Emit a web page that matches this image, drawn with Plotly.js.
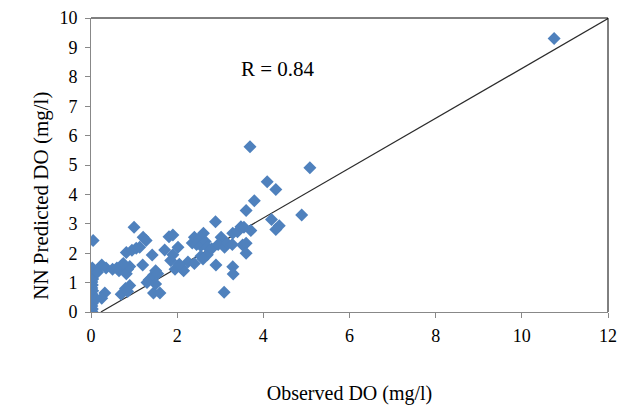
<!DOCTYPE html>
<html>
<head>
<meta charset="utf-8">
<script src="https://cdn.plot.ly/plotly-3.0.1.min.js"></script>
<style>html,body{margin:0;padding:0;background:#fff;}#chart{width:618px;height:410px;}</style>
</head>
<body>
<div id="chart"></div>
<script>
// Observed DO (mg/l)
const observedDO = [
  0.02,0.03,0.02,0.03,0.02,0.03,0.02,0.04,0.02,0.03,0.02,0.04,0.03,0.02,0.04,0.03,0.05,
  0.15,0.12,0.25,0.35,0.5,0.6,0.65,0.72,0.78,0.85,0.82,0.9,0.75,
  0.32,0.25,0.7,0.8,0.9,0.85,
  0.82,0.95,1.05,1.13,1.0,1.21,1.28,
  1.2,1.42,1.35,1.45,1.5,1.55,1.45,1.5,1.6,1.3,
  1.71,1.81,1.9,2.02,1.85,1.95,2.1,2.15,2.25,2.05,1.9,
  2.35,2.4,2.52,2.61,2.45,2.55,2.65,2.7,2.55,2.7,2.8,2.4,2.6,
  2.89,2.9,3.02,2.95,3.1,3.15,3.28,3.09,3.29,3.3,3.29,3.4,3.48,3.55,3.71,3.52,3.6,3.6,3.6,3.79,3.69,
  4.09,4.29,4.19,4.37,4.29,4.89,5.08,10.75
];
// NN Predicted DO (mg/l)
const predictedDO = [
  0.02,0.1,0.2,0.3,0.4,0.5,0.6,0.72,0.82,0.92,1.02,1.12,1.22,1.32,1.42,1.5,2.43,
  1.35,0.45,1.6,1.5,1.45,1.5,1.4,1.6,1.5,1.45,1.3,1.55,1.65,
  0.65,0.47,0.6,0.8,0.9,0.7,
  2.02,2.1,2.17,2.2,2.88,2.54,2.43,
  1.6,1.94,1.1,1.25,1.4,1.3,0.65,0.95,0.65,1.0,
  2.11,2.56,2.62,2.2,1.75,1.45,1.5,1.4,1.7,1.62,1.95,
  2.35,2.54,2.51,2.68,2.3,2.25,2.4,2.2,1.9,1.95,2.15,1.65,1.8,
  3.07,1.6,2.54,2.3,2.2,2.35,2.3,0.67,1.54,1.29,2.68,2.73,2.9,2.88,2.77,2.28,2.34,2.0,3.45,3.78,5.62,
  4.43,4.17,3.15,2.93,2.81,3.3,4.91,9.3
];
// Regression line end points
const fitX = [0.23, 12];
const fitY = [0, 9.98];
const xTicks = [0, 2, 4, 6, 8, 10, 12];
const yTicks = [0, 1, 2, 3, 4, 5, 6, 7, 8, 9, 10];
const rLabel = "R = 0.84";
const xTitle = "Observed DO (mg/l)";
const yTitle = "NN Predicted DO (mg/l)";

const serif = "Liberation Serif, Times New Roman, serif";
const traces = [
  {x: fitX, y: fitY, type: "scatter", mode: "lines",
   line: {color: "#2b2b2b", width: 1.2}, hoverinfo: "skip", showlegend: false},
  {x: observedDO, y: predictedDO, type: "scatter", mode: "markers",
   marker: {symbol: "diamond", size: 10, color: "#4F81BD"}, showlegend: false}
];
const layout = {
  width: 618, height: 410,
  margin: {l: 91, r: 10, t: 18, b: 98},
  paper_bgcolor: "#fff", plot_bgcolor: "#fff",
  font: {family: serif, size: 18, color: "#000"},
  showlegend: false,
  xaxis: {range: [0, 12], tickvals: xTicks, ticktext: xTicks.map(String),
    ticks: "outside", ticklen: 5, tickcolor: "#888", showline: true, linecolor: "#888",
    linewidth: 1, showgrid: false, zeroline: false, fixedrange: true,
    ticklabelstandoff: 2, ticklabeloverflow: "allow",
    title: {text: xTitle, font: {family: serif, size: 20}, standoff: 41}},
  yaxis: {range: [0, 10], tickvals: yTicks, ticktext: yTicks.map(String),
    ticks: "outside", ticklen: 5, tickcolor: "#888", showline: true, linecolor: "#888",
    linewidth: 1, showgrid: false, zeroline: false, fixedrange: true,
    ticklabelstandoff: 4, ticklabeloverflow: "allow"},
  shapes: [
    {type: "line", xref: "paper", yref: "paper", x0: 0, x1: 1, y0: 1, y1: 1, line: {color: "#000", width: 1}},
    {type: "line", xref: "paper", yref: "paper", x0: 1, x1: 1, y0: 0, y1: 1, line: {color: "#000", width: 1}}
  ],
  annotations: [
    {x: 4.35, y: 8.27, xref: "x", yref: "y", text: rLabel, showarrow: false,
     font: {family: serif, size: 21, color: "#000"}},
    {x: -0.124, y: 0.395, xref: "paper", yref: "paper", text: yTitle, textangle: -90,
     showarrow: false, font: {family: serif, size: 21, color: "#000"}}
  ]
};
Plotly.newPlot("chart", traces, layout, {displayModeBar: false, staticPlot: true});
</script>
</body>
</html>
